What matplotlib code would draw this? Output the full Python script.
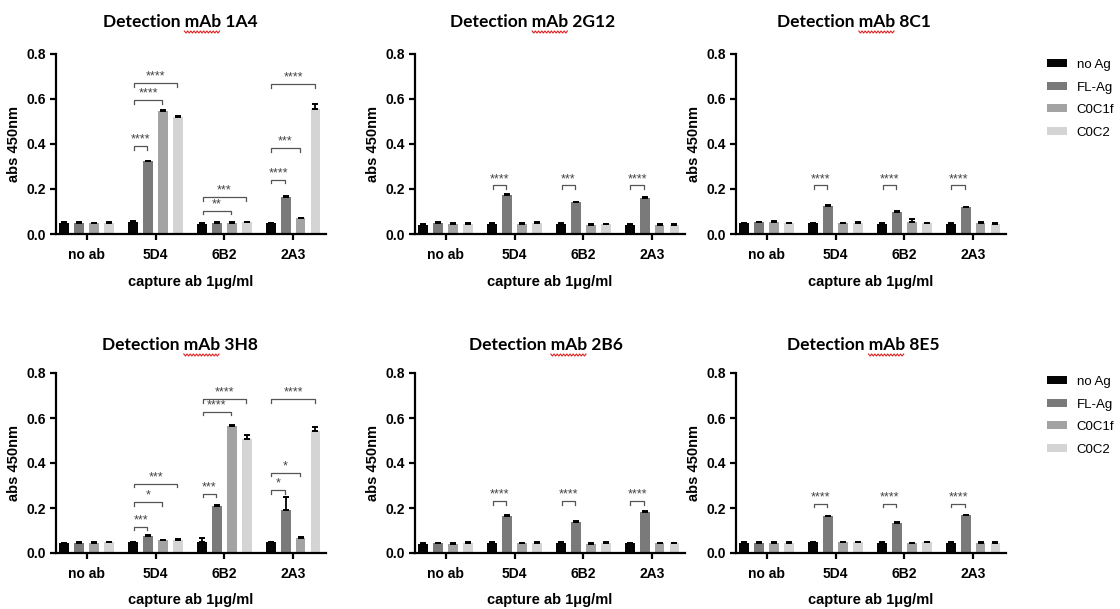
import numpy as np
import matplotlib.pyplot as plt
from matplotlib.patches import Patch
from matplotlib.lines import Line2D

plt.rcParams['font.family'] = ['Liberation Sans', 'DejaVu Sans']

groups = ['no ab', '5D4', '6B2', '2A3']
series = ['no Ag', 'FL-Ag', 'C0C1f', 'C0C2']
colors = ['#050505', '#7a7a7a', '#a3a3a3', '#d4d4d4']

# mean absorbance, one row per antigen (no Ag, FL-Ag, C0C1f, C0C2)
mean_1A4 = [[0.050, 0.055, 0.045, 0.047],
            [0.050, 0.323, 0.050, 0.165],
            [0.048, 0.548, 0.050, 0.070],
            [0.050, 0.520, 0.052, 0.557]]
err_1A4 = [[0.003, 0.004, 0.002, 0.003],
           [0.003, 0.003, 0.003, 0.004],
           [0.002, 0.004, 0.003, 0.003],
           [0.003, 0.004, 0.003, 0.020]]

mean_2G12 = [[0.041, 0.045, 0.045, 0.042],
             [0.050, 0.175, 0.140, 0.160],
             [0.045, 0.045, 0.042, 0.042],
             [0.046, 0.050, 0.043, 0.042]]
err_2G12 = [[0.003, 0.003, 0.003, 0.003],
            [0.003, 0.004, 0.004, 0.003],
            [0.003, 0.003, 0.003, 0.003],
            [0.003, 0.003, 0.003, 0.002]]

mean_8C1 = [[0.048, 0.048, 0.045, 0.045],
            [0.052, 0.126, 0.099, 0.118],
            [0.052, 0.048, 0.055, 0.050],
            [0.048, 0.050, 0.048, 0.046]]
err_8C1 = [[0.002, 0.002, 0.003, 0.003],
           [0.003, 0.004, 0.003, 0.003],
           [0.004, 0.003, 0.012, 0.003],
           [0.003, 0.003, 0.002, 0.003]]

mean_3H8 = [[0.043, 0.048, 0.050, 0.048],
            [0.045, 0.075, 0.210, 0.192],
            [0.045, 0.057, 0.566, 0.067],
            [0.047, 0.058, 0.507, 0.544]]
err_3H8 = [[0.003, 0.003, 0.018, 0.003],
           [0.003, 0.003, 0.004, 0.055],
           [0.003, 0.003, 0.004, 0.003],
           [0.003, 0.003, 0.018, 0.018]]

mean_2B6 = [[0.040, 0.046, 0.044, 0.043],
            [0.043, 0.164, 0.140, 0.182],
            [0.042, 0.043, 0.042, 0.043],
            [0.045, 0.044, 0.045, 0.043]]
err_2B6 = [[0.003, 0.002, 0.003, 0.002],
           [0.003, 0.004, 0.003, 0.003],
           [0.003, 0.003, 0.002, 0.000],
           [0.002, 0.003, 0.003, 0.002]]

mean_8E5 = [[0.046, 0.048, 0.046, 0.046],
            [0.045, 0.163, 0.135, 0.167],
            [0.045, 0.048, 0.045, 0.045],
            [0.046, 0.048, 0.048, 0.045]]
err_8E5 = [[0.002, 0.002, 0.002, 0.002],
           [0.002, 0.003, 0.003, 0.003],
           [0.003, 0.003, 0.000, 0.003],
           [0.002, 0.003, 0.003, 0.002]]

# significance brackets: (group, compared series, height, label), always vs no Ag
sig_1A4 = [(1, 1, 0.390, '****'), (1, 2, 0.594, '****'), (1, 3, 0.671, '****'),
           (2, 2, 0.104, '**'), (2, 3, 0.163, '***'),
           (3, 1, 0.242, '****'), (3, 2, 0.382, '***'), (3, 3, 0.667, '****')]
sig_2G12 = [(1, 1, 0.216, '****'), (2, 1, 0.216, '***'), (3, 1, 0.216, '****')]
sig_8C1 = [(1, 1, 0.216, '****'), (2, 1, 0.216, '****'), (3, 1, 0.216, '****')]
sig_3H8 = [(1, 1, 0.117, '***'), (1, 2, 0.227, '*'), (1, 3, 0.308, '***'),
           (2, 1, 0.264, '***'), (2, 2, 0.628, '****'), (2, 3, 0.684, '****'),
           (3, 1, 0.280, '*'), (3, 2, 0.357, '*'), (3, 3, 0.683, '****')]
sig_2B6 = [(1, 1, 0.231, '****'), (2, 1, 0.231, '****'), (3, 1, 0.231, '****')]
sig_8E5 = [(1, 1, 0.220, '****'), (2, 1, 0.220, '****'), (3, 1, 0.220, '****')]

panels = [('Detection mAb 1A4', mean_1A4, err_1A4, sig_1A4),
          ('Detection mAb 2G12', mean_2G12, err_2G12, sig_2G12),
          ('Detection mAb 8C1', mean_8C1, err_8C1, sig_8C1),
          ('Detection mAb 3H8', mean_3H8, err_3H8, sig_3H8),
          ('Detection mAb 2B6', mean_2B6, err_2B6, sig_2B6),
          ('Detection mAb 8E5', mean_8E5, err_8E5, sig_8E5)]

W, H = 1120, 609
fig = plt.figure(figsize=(W / 100, H / 100), dpi=100)

col_left = [56, 415, 736]
row_zero = [234, 553]
xlabel_gap = [41, 40]
ax_w, ax_h = 270, 180
title_pos = [(180, 22), (533, 22), (854, 22), (180, 345), (546, 345), (863, 345)]

x = np.arange(len(groups))
bw = 0.145
offs = np.array([-1.5, -0.5, 0.5, 1.5]) * 0.218

for i, (title, mean, err, sig) in enumerate(panels):
    r, c = divmod(i, 3)
    ax = fig.add_axes([col_left[c] / W, 1 - row_zero[r] / H, ax_w / W, ax_h / H])
    for k in range(4):
        ax.bar(x + offs[k], mean[k], bw, color=colors[k], zorder=2)
        ax.errorbar(x + offs[k], mean[k], yerr=[np.zeros(4), err[k]], fmt='none',
                    ecolor='black', elinewidth=1.3, capsize=2.2, capthick=1.4, zorder=3)
    for g, k, h, lab in sig:
        x0 = g + offs[0] + 0.01
        x1 = g + offs[k] - 0.01
        ax.plot([x0, x0, x1, x1], [h - 0.016, h, h, h - 0.016], color='#555555',
                lw=0.9, zorder=3, clip_on=False)
        ax.text((x0 + x1) / 2, h + 0.002, lab, ha='center', va='bottom',
                fontsize=9, color='#444444')

    ax.set_xlim(-0.45, 3.48)
    ax.set_ylim(0, 0.8)
    ax.set_yticks([0, 0.2, 0.4, 0.6, 0.8])
    ax.set_yticklabels(['0.0', '0.2', '0.4', '0.6', '0.8'])
    ax.set_xticks(x)
    ax.set_xticklabels(groups)
    for s in ['top', 'right']:
        ax.spines[s].set_visible(False)
    for s in ['left', 'bottom']:
        ax.spines[s].set_linewidth(1.6)
    ax.tick_params(axis='both', width=1.6, length=4, labelsize=10)
    ax.tick_params(axis='x', pad=6)
    ax.tick_params(axis='y', pad=3)
    for lbl in ax.get_xticklabels() + ax.get_yticklabels():
        lbl.set_fontweight('bold')
    ax.set_ylabel('abs 450nm', fontsize=10.5, fontweight='bold')
    ax.yaxis.set_label_coords(-35 / ax_w, 0.5)
    ax.set_xlabel('capture ab 1\u03bcg/ml', fontsize=10.5, fontweight='bold')
    ax.xaxis.set_label_coords(0.5, -xlabel_gap[r] / ax_h)

    tx, ty = title_pos[i]
    fig.text(tx / W, 1 - ty / H, title, ha='center', va='center', fontsize=12.5,
             fontweight='bold', family=['Lato', 'DejaVu Sans'])

# red spell-check squiggle under "mAb" in each title
fig.canvas.draw()
renderer = fig.canvas.get_renderer()


def text_width(s):
    t = fig.text(0, 0, s, fontsize=12.5, fontweight='bold', family=['Lato', 'DejaVu Sans'])
    w = t.get_window_extent(renderer).width
    t.remove()
    return w


for i, (title, _, _, _) in enumerate(panels):
    tx, ty = title_pos[i]
    start = tx - text_width(title) / 2 + text_width('Detection mAb') - text_width('mAb')
    end = start + text_width('mAb')
    xs = np.arange(start, end + 0.1, 1.6)
    ys = ty + 10 + np.where(np.arange(len(xs)) % 2 == 0, -1.0, 1.0)
    fig.add_artist(Line2D(xs / W, 1 - ys / H, color='#e02020', lw=0.8))

handles = [Patch(facecolor=col, edgecolor='none') for col in colors]
for top in [59, 376]:
    fig.legend(handles, series, loc='upper left', bbox_to_anchor=(1047 / W, 1 - top / H),
               frameon=False, fontsize=9.5, handlelength=1.5, handleheight=0.55,
               handletextpad=0.75, labelspacing=0.8, borderpad=0, borderaxespad=0)

fig.savefig('out.png', dpi=100, facecolor='white')
